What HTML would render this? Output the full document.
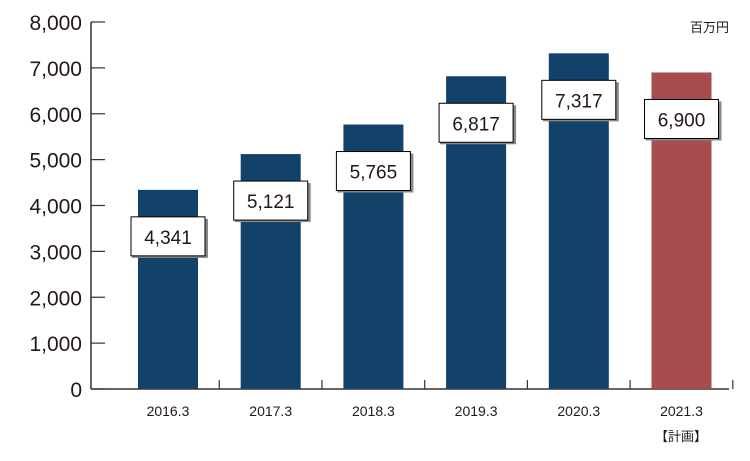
<!DOCTYPE html>
<html><head><meta charset="utf-8"><style>
body{margin:0;background:#fff}
svg{display:block;font-family:"Liberation Sans","Noto Sans CJK JP",sans-serif}
</style></head><body>
<svg width="750" height="461" id="c"></svg>
<script>
const categories=["2016.3","2017.3","2018.3","2019.3","2020.3","2021.3"];
const values=[4341,5121,5765,6817,7317,6900];
const valueLabels=["4,341","5,121","5,765","6,817","7,317","6,900"];
const yTicks=[0,1000,2000,3000,4000,5000,6000,7000,8000];
const yTickLabels=["0","1,000","2,000","3,000","4,000","5,000","6,000","7,000","8,000"];
const ns="http://www.w3.org/2000/svg";
const svg=document.getElementById('c');
const y=v=>389-v*367/8000;
const x=i=>168+i*102.7;
function mk(t,a,p){const e=document.createElementNS(ns,t);for(const k in a)e.setAttribute(k,a[k]);(p||svg).appendChild(e);return e;}
const axis=mk('g',{});


mk('line',{x1:91,y1:22,x2:91,y2:389,stroke:'#3a302c','stroke-width':1.5},axis);
mk('line',{x1:91,y1:389,x2:729,y2:389,stroke:'#3a302c','stroke-width':1.5},axis);
yTicks.forEach((v,i)=>{
  mk('line',{x1:91,y1:y(v),x2:105,y2:y(v),stroke:'#3a302c','stroke-width':1.2},axis);
  const t=mk('text',{x:82,y:y(v)+8,'text-anchor':'end','font-size':21,fill:'#231815'});
  
  
  t.textContent=yTickLabels[i];
});
categories.forEach((c,i)=>{
  const sx=x(i)+51.3;
  if(i<categories.length-1||true) mk('line',{x1:sx,y1:380,x2:sx,y2:389,stroke:'#3a302c','stroke-width':1.2},axis);
  const r=mk('rect',{x:x(i)-30,y:y(values[i]),width:60,height:389-y(values[i]),fill:i==5?'#a64d4d':'#124169'});
  
  
  const t=mk('text',{x:x(i),y:416,'text-anchor':'middle','font-size':14,fill:'#231815'});
  
  
  t.textContent=c;
  const by=y(values[i])+27;
  const sh=mk('rect',{x:x(i)-36,y:by+2,width:76,height:39,fill:'#888'});
  
  
  const b=mk('rect',{x:x(i)-37,y:by,width:74,height:39,fill:'#fff',stroke:'#000','stroke-width':1});
  
  
  const vt=mk('text',{x:x(i),y:by+27,'text-anchor':'middle','font-size':19,fill:'#231815'});
  
  
  vt.textContent=valueLabels[i];
});
const u=mk('text',{x:729,y:32,'text-anchor':'end','font-size':13,fill:'#231815'});


u.textContent='百万円';
const p=mk('text',{x:681,y:441,'text-anchor':'middle','font-size':13,fill:'#231815'});


p.textContent='【計画】';
</script>
</body></html>
